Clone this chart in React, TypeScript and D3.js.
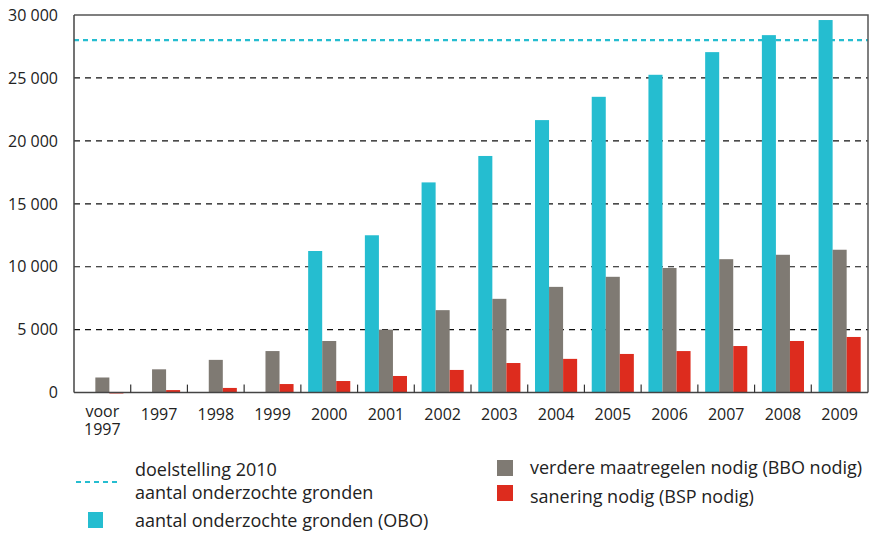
import React from "react"
import * as d3 from "d3"

const categories = ["voor 1997", "1997", "1998", "1999", "2000", "2001", "2002", "2003", "2004", "2005", "2006", "2007", "2008", "2009"]
const obo = [0, 0, 0, 0, 11250, 12500, 16700, 18800, 21650, 23500, 25250, 27050, 28400, 29600]
const bbo = [1200, 1850, 2600, 3300, 4100, 5000, 6550, 7450, 8400, 9200, 9900, 10600, 10950, 11350]
const bsp = [50, 200, 370, 680, 920, 1320, 1800, 2350, 2680, 3070, 3300, 3700, 4100, 4420]
const target = 28000
const yTicks = [0, 5000, 10000, 15000, 20000, 25000, 30000]
const seriesKeys = ["obo", "bbo", "bsp"]
const colours = { obo: "#25bdd0", bbo: "#7f7a73", bsp: "#dd2c1e" }

const width = 869
const height = 533
const margin = { top: 15, right: 1, bottom: 140, left: 74 }
const font = "'Open Sans', sans-serif"

const App = () => {
  const x0 = d3
    .scaleBand()
    .domain(categories)
    .range([margin.left, width - margin.right])
    .padding(0)
  const x1 = d3
    .scaleBand()
    .domain(seriesKeys)
    .range([0, x0.bandwidth()])
    .paddingInner(0)
    .paddingOuter(0.52)
  const y = d3
    .scaleLinear()
    .domain([0, 30000])
    .range([height - margin.bottom - 0.4, margin.top])

  const fmt = (v: number) => d3.format(",")(v).replace(",", " ")
  const values = { obo, bbo, bsp }
  const x0r = width - margin.right
  const y0 = y(0)

  return (
    <svg width={width} height={height} style={{ position: "absolute", left: 0, top: 0, background: "#fff" }} fontFamily={font}>
      {/* gridlines */}
      {yTicks.filter(t => t > 0 && t < 30000).map(t => (
        <line key={t} x1={margin.left} x2={x0r} y1={y(t)} y2={y(t)} stroke="#111" strokeWidth={1.2} strokeDasharray="6,5" />
      ))}
      <line x1={margin.left} x2={x0r} y1={y(target)} y2={y(target)} stroke={colours.obo} strokeWidth={2.2} strokeDasharray="5,4" />

      {/* bars */}
      {categories.map((c, i) => (
        <g key={c} transform={`translate(${x0(c)},0)`}>
          {seriesKeys.map(k => {
            const v = values[k][i]
            if (!v) return null
            return <rect key={k} x={x1(k)} width={x1.bandwidth()} y={y(v)} height={Math.max(1.5, y0 - y(v))} fill={colours[k]} />
          })}
        </g>
      ))}

      {/* frame */}
      <path d={`M${margin.left},${margin.top}H${x0r}V${y0}`} fill="none" stroke="#555" strokeWidth={1.5} />
      <line x1={margin.left} x2={margin.left} y1={margin.top} y2={y0} stroke="#444" strokeWidth={1.5} />
      <line x1={margin.left} x2={x0r} y1={y0} y2={y0} stroke="#444" strokeWidth={1.5} />
      {categories.slice(1).map(c => (
        <line key={c} x1={x0(c)} x2={x0(c)} y1={y0} y2={y0 - 8} stroke="#333" strokeWidth={1.2} />
      ))}

      {/* y labels */}
      {yTicks.map(t => (
        <text key={t} x={margin.left - 16} y={y(t)} dy="0.36em" textAnchor="end" fontSize={16} fill="#222">{fmt(t)}</text>
      ))}

      {/* x labels */}
      {categories.map(c => {
        const cx = x0(c) + x0.bandwidth() / 2
        const parts = c.split(" ")
        return (
          <text key={c} x={cx} y={parts.length > 1 ? 417 : 420} textAnchor="middle" fontSize={16} fill="#222">
            {parts.map((p, j) => (
              <tspan key={j} x={cx} dy={j === 0 ? 0 : 18}>{p}</tspan>
            ))}
          </text>
        )
      })}

      {/* legend */}
      <g fontSize={18} fill="#222">
        <line x1={76} x2={119} y1={482} y2={482} stroke={colours.obo} strokeWidth={2.2} strokeDasharray="5,4" />
        <text x={135} y={476}>doelstelling 2010</text>
        <text x={135} y={499}>aantal onderzochte gronden</text>
        <rect x={88} y={512} width={15} height={16} fill={colours.obo} />
        <text x={135} y={527}>aantal onderzochte gronden (OBO)</text>
        <rect x={497} y={460} width={16} height={16} fill={colours.bbo} />
        <text x={530} y={474}>verdere maatregelen nodig (BBO nodig)</text>
        <rect x={497} y={485} width={16} height={16} fill={colours.bsp} />
        <text x={530} y={503}>sanering nodig (BSP nodig)</text>
      </g>
    </svg>
  )
}

export default App
